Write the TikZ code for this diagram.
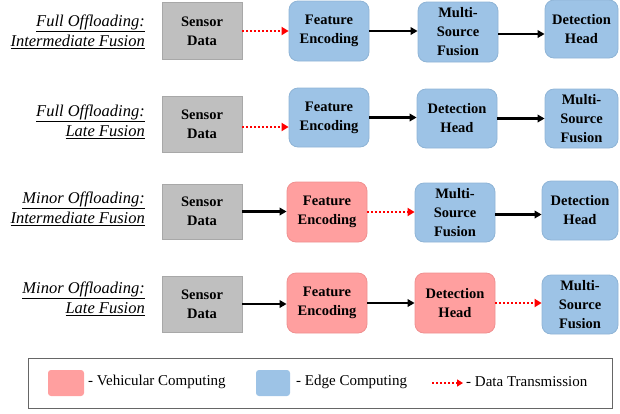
\documentclass[tikz,border=0pt]{standalone}
\usepackage{fontspec}
\setmainfont{Liberation Serif}
\newfontfamily\tnr{Liberation Serif}
\usetikzlibrary{arrows.meta}
\definecolor{grayfill}{HTML}{BFBFBF}
\definecolor{grayline}{HTML}{A8A8A8}
\definecolor{edgefill}{HTML}{9DC3E6}
\definecolor{edgeline}{HTML}{8FB4D6}
\definecolor{vehfill}{HTML}{FF9F9F}
\definecolor{vehline}{HTML}{F09090}
\definecolor{txred}{HTML}{FF0000}
\tikzset{
  wh/.style 2 args={minimum width=#1pt, minimum height=#2pt},
  sensor/.style={draw=grayline, fill=grayfill, line width=0.8pt, inner sep=0pt, align=center,
    font=\tnr\fontsize{14.5}{19}\selectfont\bfseries},
  edgebox/.style={draw=edgeline, fill=edgefill, line width=0.8pt, rounded corners=9pt, inner sep=0pt, align=center,
    font=\tnr\fontsize{14.5}{19}\selectfont\bfseries},
  vehbox/.style={draw=vehline, fill=vehfill, line width=0.8pt, rounded corners=9pt, inner sep=0pt, align=center,
    font=\tnr\fontsize{14.5}{19}\selectfont\bfseries},
  rowlabel/.style={anchor=east, align=right, inner sep=0pt, font=\tnr\fontsize{16.5}{20}\selectfont\itshape},
  solidarrow/.style={line width=2.1pt, -{Triangle[length=7pt,width=7.5pt]}},
  transarrow/.style={draw=txred, line width=2.1pt, dash pattern=on 2pt off 2pt, -{Triangle[length=7pt,width=8pt]}},
  legtext/.style={anchor=west, inner sep=0pt, font=\tnr\fontsize{15}{17}\selectfont},
}
\begin{document}
\begin{tikzpicture}[x=1pt,y=-1pt]
\useasboundingbox (0,0) rectangle (620,413);
% row labels
\node[rowlabel] (L1) at (145,32) {\underline{Full Offloading:}\\\underline{Intermediate Fusion}};
\node[rowlabel] (L2) at (145,122) {\underline{Full Offloading:}\\\underline{Late Fusion}};
\node[rowlabel] (L3) at (145,209) {\underline{Minor Offloading:}\\\underline{Intermediate Fusion}};
\node[rowlabel] (L4) at (145,299) {\underline{Minor Offloading:}\\\underline{Late Fusion}};
% row 1
\node[sensor, wh={80}{57}] (S1) at (202,31) {Sensor\\Data};
\node[edgebox, wh={80}{60}] (F1) at (329,31) {Feature\\Encoding};
\node[edgebox, wh={80}{60}] (M1) at (458,32) {Multi-\\Source\\Fusion};
\node[edgebox, wh={73}{58}] (D1) at (581.5,29) {Detection\\Head};
% row 2
\node[sensor, wh={80}{56}] (S2) at (202,124) {Sensor\\Data};
\node[edgebox, wh={80}{59}] (F2) at (329,117.5) {Feature\\Encoding};
\node[edgebox, wh={80}{59}] (D2) at (457,118.5) {Detection\\Head};
\node[edgebox, wh={73}{59}] (M2) at (581.5,118.5) {Multi-\\Source\\Fusion};
% row 3
\node[sensor, wh={80}{55}] (S3) at (202,211.5) {Sensor\\Data};
\node[vehbox, wh={80}{60}] (F3) at (327,212) {Feature\\Encoding};
\node[edgebox, wh={80}{59}] (M3) at (455,212.5) {Multi-\\Source\\Fusion};
\node[edgebox, wh={76}{59}] (D3) at (580,210.5) {Detection\\Head};
% row 4
\node[sensor, wh={80}{56}] (S4) at (202,304) {Sensor\\Data};
\node[vehbox, wh={80}{60}] (F4) at (327,303) {Feature\\Encoding};
\node[vehbox, wh={80}{60}] (D4) at (455,303) {Detection\\Head};
\node[edgebox, wh={76}{59}] (M4) at (580,304.5) {Multi-\\Source\\Fusion};
% arrows
\draw[transarrow] (S1.east) -- (S1.east -| F1.west);
\draw[solidarrow] (F1.east) -- (F1.east -| M1.west);
\draw[solidarrow] ([yshift=-2pt]M1.east) -- ([yshift=-2pt]M1.east -| D1.west);
\draw[transarrow] ([yshift=-3pt]S2.east) -- ([yshift=-3pt]S2.east -| F2.west);
\draw[solidarrow] (F2.east) -- (F2.east -| D2.west);
\draw[solidarrow] (D2.east) -- (D2.east -| M2.west);
\draw[solidarrow] (S3.east) -- (S3.east -| F3.west);
\draw[transarrow] (F3.east) -- (F3.east -| M3.west);
\draw[solidarrow] ([yshift=-2pt]M3.east) -- ([yshift=-2pt]M3.east -| D3.west);
\draw[solidarrow] (S4.east) -- (S4.east -| F4.west);
\draw[solidarrow] (F4.east) -- (F4.east -| D4.west);
\draw[transarrow] (D4.east) -- (D4.east -| M4.west);
% legend
\node[draw=black!60, line width=0.8pt, minimum width=584pt, minimum height=50pt, inner sep=0pt] (LG) at (320,383) {};
\node[fill=vehfill, rounded corners=3pt, minimum width=36pt, minimum height=26pt, inner sep=0pt] (PV) at (66,383) {};
\node[legtext] (TV) at (88,382) {- Vehicular Computing};
\node[fill=edgefill, rounded corners=3pt, minimum width=34pt, minimum height=26pt, inner sep=0pt] (PE) at (273,383) {};
\node[legtext] (TE) at (296,382) {- Edge Computing};
\coordinate (AT0) at (432,383);
\coordinate (AT1) at (463,383);
\draw[transarrow, line width=1.8pt, -{Triangle[length=6pt,width=7pt]}] (AT0) -- (AT1);
\node[legtext] (TT) at (466,382) {- Data Transmission};
\end{tikzpicture}
\end{document}
